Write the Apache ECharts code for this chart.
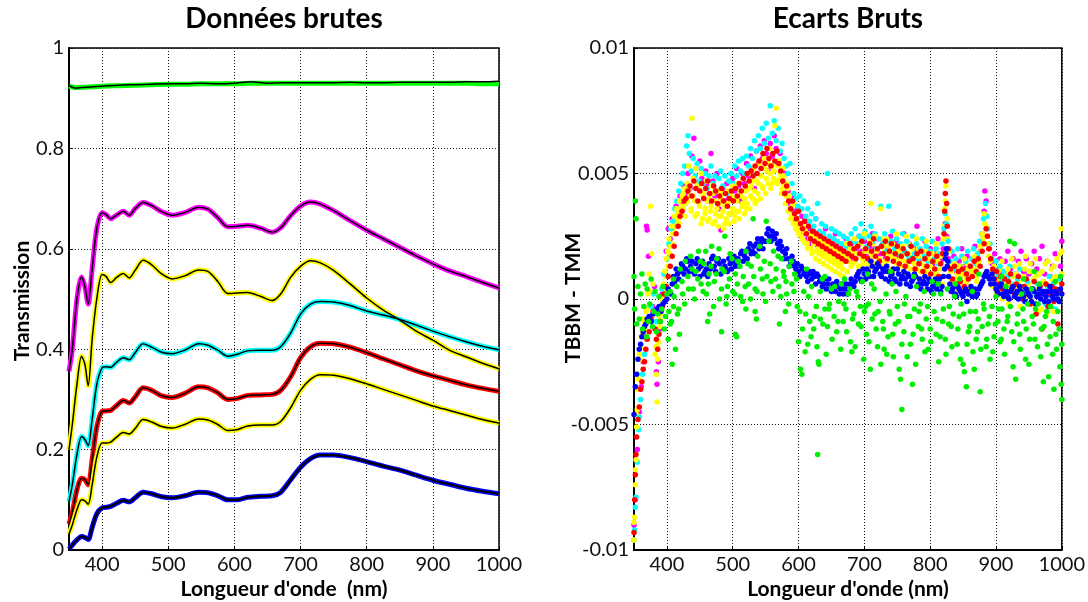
<!DOCTYPE html>
<html><head><meta charset="utf-8">
<script src="https://cdn.jsdelivr.net/npm/echarts@6/dist/echarts.min.js"></script>
<style>html,body{margin:0;padding:0;background:#fff}#c{width:1088px;height:602px}</style>
</head><body><div id="c"></div>
<script>
// ---------- tick labels ----------
const xTicks = [400, 500, 600, 700, 800, 900, 1000];
const yTicksLeft = [0, 0.2, 0.4, 0.6, 0.8, 1];
const yTicksRight = [-0.01, -0.005, 0, 0.005, 0.01];

// ---------- left panel: transmission curves ----------
const wl = [350,355,362,369,374,379,385,392,400,406,413,422,432,441,450,462,475,490,506,525,546,560,575,590,605,620,640,657,670,685,700,715,730,750,775,800,825,850,875,900,925,950,975,1000];
const magenta = [0.356,0.40,0.50,0.544,0.525,0.49,0.56,0.64,0.672,0.668,0.660,0.667,0.675,0.667,0.680,0.692,0.686,0.674,0.667,0.672,0.683,0.679,0.662,0.644,0.645,0.647,0.641,0.633,0.642,0.666,0.685,0.693,0.689,0.676,0.656,0.637,0.620,0.603,0.586,0.570,0.556,0.545,0.533,0.522];
const yellowHigh = [0.200,0.25,0.33,0.386,0.37,0.327,0.42,0.50,0.549,0.545,0.533,0.543,0.551,0.542,0.557,0.577,0.568,0.550,0.540,0.546,0.558,0.555,0.535,0.511,0.512,0.513,0.505,0.497,0.510,0.543,0.565,0.576,0.572,0.557,0.530,0.502,0.478,0.458,0.436,0.418,0.398,0.385,0.372,0.361];
const cyan = [0.096,0.13,0.19,0.226,0.22,0.208,0.26,0.33,0.363,0.365,0.364,0.374,0.383,0.379,0.393,0.411,0.404,0.394,0.391,0.398,0.411,0.408,0.398,0.386,0.390,0.397,0.398,0.398,0.405,0.432,0.470,0.490,0.495,0.494,0.487,0.476,0.468,0.459,0.448,0.436,0.425,0.415,0.406,0.399];
const red = [0.052,0.075,0.12,0.143,0.14,0.130,0.18,0.245,0.276,0.277,0.278,0.288,0.298,0.293,0.305,0.323,0.318,0.307,0.304,0.312,0.325,0.323,0.313,0.300,0.302,0.308,0.309,0.310,0.318,0.345,0.383,0.405,0.412,0.411,0.404,0.393,0.381,0.369,0.357,0.347,0.338,0.329,0.322,0.316];
const yellowLow = [0.032,0.05,0.08,0.100,0.098,0.091,0.13,0.185,0.213,0.213,0.215,0.225,0.234,0.231,0.242,0.260,0.255,0.246,0.243,0.250,0.261,0.259,0.250,0.238,0.240,0.247,0.249,0.249,0.256,0.283,0.318,0.340,0.349,0.348,0.341,0.331,0.320,0.309,0.298,0.287,0.278,0.269,0.260,0.253];
const blue = [0.002,0.010,0.020,0.027,0.025,0.021,0.045,0.072,0.084,0.085,0.087,0.093,0.099,0.096,0.104,0.115,0.112,0.106,0.104,0.108,0.115,0.114,0.108,0.100,0.100,0.105,0.107,0.108,0.115,0.140,0.165,0.182,0.189,0.189,0.184,0.176,0.167,0.159,0.149,0.139,0.131,0.123,0.117,0.112];
const gwl = [350,360,375,400,425,450,475,500,525,550,575,600,625,650,675,700,725,750,775,800,825,850,875,900,925,950,975,1000];
const green = [0.924,0.921,0.922,0.924,0.925,0.926,0.927,0.928,0.928,0.929,0.929,0.929,0.930,0.930,0.930,0.930,0.930,0.930,0.930,0.930,0.930,0.930,0.930,0.930,0.930,0.930,0.929,0.929];
const greenFit = [0.925,0.920,0.922,0.924,0.926,0.927,0.928,0.929,0.929,0.930,0.929,0.930,0.933,0.930,0.931,0.931,0.931,0.931,0.932,0.931,0.931,0.932,0.932,0.932,0.932,0.933,0.933,0.934];

// ---------- right panel: differences TBBM - TMM (units of 1e-3) ----------
const dBlue = [[350,-4.6],[352,-3.5],[354,-3.0],[356,-2.4],[358,-2.0],[360,-1.8],[362,-1.5],[364,-1.3],[366,-1.1],[368,-1.0],[370,-0.8],[373,-0.7],[376,-0.9],[379,-0.6],[382,-0.5],[385,-0.4],[388,-0.3],[391,-0.5],[394,-0.2],[397,-0.1],[400,0.0],[404,0.3],[408,0.6],[412,0.7],[416,1.0],[420,1.1],[424,1.3],[428,1.2],[432,1.5],[436,1.3],[440,1.1],[444,1.4],[448,1.2],[452,1.3],[456,1.0],[460,1.2],[464,1.4],[468,1.6],[472,1.3],[476,1.5],[480,1.4],[484,1.2],[488,1.3],[492,1.1],[496,1.4],[500,1.5],[504,1.3],[508,1.6],[512,1.8],[516,1.5],[520,1.9],[524,2.0],[528,1.8],[532,2.1],[536,2.2],[540,2.0],[544,2.4],[548,2.3],[552,2.6],[556,2.5],[560,2.7],[564,2.4],[568,2.2],[572,2.3],[576,1.9],[580,1.8],[584,1.6],[588,1.4],[592,1.5],[596,1.2],[600,1.1],[604,1.3],[608,1.0],[612,0.9],[616,1.1],[620,0.8],[624,0.9],[628,1.0],[632,0.7],[636,0.5],[640,0.8],[644,0.6],[648,0.4],[652,0.6],[656,0.3],[660,0.5],[664,0.4],[668,0.2],[672,0.6],[676,0.4],[680,0.8],[684,0.5],[688,0.9],[692,1.1],[696,0.7],[700,1.0],[704,1.2],[708,0.9],[712,1.3],[716,1.1],[720,1.4],[724,1.0],[728,1.2],[732,0.8],[736,1.1],[740,0.9],[744,1.2],[748,0.7],[752,1.0],[756,0.8],[760,1.1],[764,0.6],[768,0.9],[772,0.7],[776,1.0],[780,0.5],[784,0.8],[788,0.6],[792,0.9],[796,0.4],[800,0.7],[804,0.5],[808,0.8],[812,0.6],[816,0.3],[820,0.9],[823,1.6],[825,2.0],[827,1.5],[830,0.6],[834,0.4],[838,0.2],[842,0.5],[846,0.3],[850,0.1],[854,0.4],[858,0.2],[862,0.5],[866,0.3],[870,0.1],[874,0.4],[878,0.6],[882,0.9],[886,1.1],[890,0.8],[894,1.0],[898,0.6],[902,0.3],[906,0.5],[910,0.2],[914,0.4],[918,0.1],[922,0.3],[926,0.5],[930,0.2],[934,0.0],[938,0.3],[942,0.1],[946,0.4],[950,0.2],[954,-0.1],[958,0.3],[962,0.1],[966,0.4],[970,0.2],[974,-0.1],[978,0.3],[982,0.5],[986,0.1],[990,0.3],[994,0.0],[998,0.4],[1000,0.2]];
const dBlue2 = [[402,0.4],[406,0.2],[410,0.9],[414,1.2],[418,0.8],[422,1.4],[426,1.0],[430,1.6],[434,1.1],[438,1.5],[442,1.0],[446,1.6],[450,0.9],[454,1.5],[458,1.1],[462,0.9],[466,1.2],[470,1.7],[474,1.1],[478,1.6],[482,1.0],[486,1.5],[490,1.2],[494,1.6],[498,1.2],[502,1.7],[506,1.4],[510,1.3],[514,1.9],[518,1.7],[522,1.6],[526,2.2],[530,1.9],[534,1.8],[538,2.4],[542,2.2],[546,2.0],[550,2.3],[554,2.8],[558,2.3],[562,2.5],[566,2.6],[570,2.0],[574,2.1],[578,1.6],[582,2.0],[586,1.3],[590,1.7],[594,1.3],[598,1.4],[602,0.9],[606,1.2],[610,1.1],[614,0.7],[618,1.0],[622,1.1],[626,0.6],[630,0.9],[634,0.8],[638,0.6],[642,0.4],[646,0.8],[650,0.3],[654,0.5],[658,0.7],[662,0.2],[666,0.6],[670,0.4],[674,0.2],[678,0.6],[682,0.6],[686,0.7],[690,1.0],[694,0.8],[698,1.2],[702,0.8],[706,1.1],[710,1.5],[714,0.9],[718,1.2],[722,1.3],[726,0.9],[730,1.1],[734,1.3],[738,0.7],[742,1.0],[746,0.8],[750,1.2],[754,0.6],[758,0.9],[762,0.8],[766,1.0],[770,0.5],[774,0.8],[778,0.9],[782,0.6],[786,0.4],[790,0.7],[794,0.6],[798,0.8],[802,0.3],[806,0.6],[810,0.4],[814,0.8],[818,0.5],[822,1.2],[824,1.8],[826,1.3],[828,0.9],[832,0.3],[836,0.5],[840,0.1],[844,0.4],[848,0.2],[852,0.3],[856,-0.1],[860,0.3],[864,0.1],[868,0.4],[872,0.2],[876,0.5],[880,0.7],[884,1.0],[888,0.9],[892,0.6],[896,0.8],[900,0.4],[904,0.2],[908,0.6],[912,0.1],[916,0.3],[920,0.0],[924,0.4],[928,0.1],[932,0.3],[936,0.5],[940,0.2],[944,-0.1],[948,0.3],[952,0.1],[956,0.4],[960,-0.2],[964,0.2],[968,0.0],[972,0.3],[976,0.1],[980,-0.1],[984,0.3],[988,0.0],[992,0.2],[996,-0.1]];
const dRed = [[350,-9.3],[351,-8.0],[352,-7.0],[353,-6.2],[354,-5.5],[356,-4.8],[358,-4.3],[360,-3.6],[362,-3.3],[364,-2.8],[366,-2.5],[368,-2.0],[370,-1.6],[373,-1.3],[376,-0.8],[379,-0.5],[382,-1.2],[384,-1.6],[386,-2.0],[388,-1.4],[390,-0.9],[393,-0.3],[396,0.2],[399,0.5],[402,0.9],[405,1.3],[408,1.7],[411,2.1],[414,2.6],[417,2.9],[420,3.3],[423,3.5],[426,3.9],[429,4.0],[432,4.3],[435,4.5],[438,4.1],[441,4.7],[444,4.4],[447,3.9],[450,4.3],[453,4.6],[456,4.0],[459,4.4],[462,4.7],[465,4.2],[468,3.9],[471,4.5],[474,4.3],[477,3.8],[480,4.1],[483,4.4],[486,3.9],[489,4.2],[492,3.7],[495,4.0],[498,4.3],[501,3.9],[504,4.4],[507,4.1],[510,4.6],[513,4.3],[516,4.8],[519,4.5],[522,5.0],[525,4.7],[528,5.1],[531,4.9],[534,5.3],[537,5.0],[540,5.5],[543,5.2],[546,5.8],[549,5.4],[552,6.0],[555,5.6],[558,5.3],[561,5.8],[564,5.5],[567,5.9],[570,5.4],[573,5.1],[576,4.7],[579,4.2],[582,4.5],[585,3.9],[588,3.6],[591,3.9],[594,3.4],[597,3.2],[600,3.5],[603,3.0],[606,2.8],[609,3.1],[612,2.6],[615,2.9],[618,2.4],[621,2.7],[624,2.3],[627,2.6],[630,2.2],[633,2.5],[636,2.1],[639,2.4],[642,2.0],[645,2.3],[648,1.9],[651,2.2],[654,1.8],[657,2.1],[660,1.7],[663,2.0],[666,1.6],[669,1.9],[672,1.5],[675,1.8],[678,2.2],[681,1.7],[684,2.0],[687,1.6],[690,2.1],[693,1.8],[696,2.3],[699,1.7],[702,2.0],[705,1.6],[708,2.2],[711,1.9],[714,2.4],[717,1.7],[720,2.0],[723,1.5],[726,2.1],[729,1.8],[732,2.3],[735,1.6],[738,1.9],[741,2.2],[744,1.5],[747,1.8],[750,2.1],[753,1.4],[756,1.7],[759,2.0],[762,1.3],[765,1.8],[768,1.5],[771,2.1],[774,1.6],[777,1.2],[780,1.8],[783,1.4],[786,1.9],[789,1.1],[792,1.6],[795,1.3],[798,1.8],[801,1.0],[804,1.5],[807,1.2],[810,1.7],[813,0.9],[816,1.4],[819,1.8],[821,2.6],[822,3.5],[823,4.2],[824,4.7],[825,3.8],[826,2.9],[828,2.0],[831,1.2],[834,0.8],[837,1.3],[840,0.6],[843,1.1],[846,0.7],[849,1.2],[852,0.5],[855,1.0],[858,0.8],[861,1.3],[864,0.9],[867,1.5],[870,1.1],[873,1.6],[876,1.3],[879,1.9],[882,2.2],[885,2.8],[887,2.5],[889,2.0],[892,1.6],[895,1.2],[898,0.8],[901,1.1],[904,0.6],[907,0.9],[910,0.4],[913,0.8],[916,0.3],[919,0.7],[922,1.0],[925,0.5],[928,0.2],[931,0.6],[934,0.9],[937,0.3],[940,0.0],[943,0.5],[946,0.8],[949,0.2],[952,-0.2],[955,0.4],[958,0.7],[961,-0.6],[964,0.1],[967,0.5],[970,-1.2],[973,0.3],[976,0.6],[979,-0.3],[982,0.2],[985,0.5],[988,-0.1],[991,0.4],[994,-1.0],[997,0.3],[1000,0.6]];
const dYellow = [[350,-9.6],[351,-8.7],[352,-7.4],[353,-6.4],[354,-5.1],[355,-4.4],[356,-3.6],[357,-3.2],[359,-2.4],[361,-1.9],[363,-1.3],[365,-0.9],[368,-0.5],[371,0.2],[373,1.0],[375,3.7],[377,1.8],[379,0.6],[381,-0.6],[383,-1.9],[385,-4.1],[386,-2.4],[387,-1.7],[389,-1.1],[391,-0.6],[393,0.0],[395,0.6],[397,1.1],[399,1.6],[401,1.9],[403,2.4],[405,2.1],[407,2.9],[409,2.6],[411,3.3],[413,2.9],[415,3.6],[417,3.2],[419,3.9],[421,3.4],[423,4.1],[425,3.6],[427,4.4],[429,3.8],[431,4.6],[433,5.3],[435,4.1],[437,3.5],[438,7.2],[440,4.8],[442,3.9],[444,5.2],[446,3.4],[448,4.4],[450,3.7],[452,5.0],[454,3.2],[456,4.2],[458,3.6],[460,4.7],[462,3.1],[464,4.0],[466,3.5],[468,4.5],[470,3.0],[472,3.9],[474,3.4],[476,4.3],[478,2.9],[480,3.8],[482,3.3],[484,4.2],[486,2.8],[488,3.7],[490,3.2],[492,4.3],[494,3.0],[496,3.9],[498,3.4],[500,4.5],[502,3.1],[504,4.0],[506,3.5],[508,4.6],[510,3.2],[512,4.1],[514,3.7],[516,4.8],[518,3.4],[520,4.3],[522,3.8],[524,5.0],[526,3.6],[528,4.5],[530,4.0],[532,5.2],[534,3.8],[536,4.7],[538,4.2],[540,5.4],[542,4.0],[544,4.9],[546,4.4],[548,5.6],[550,4.2],[552,5.1],[554,4.6],[556,6.0],[558,4.4],[560,5.3],[562,4.8],[564,6.9],[566,7.6],[568,4.6],[570,5.5],[572,5.0],[574,4.2],[576,5.2],[578,4.5],[580,3.8],[582,4.6],[584,3.5],[586,4.1],[588,3.2],[590,3.7],[592,3.0],[594,3.4],[596,2.8],[598,3.2],[600,2.6],[602,3.0],[604,2.5],[606,2.9],[608,2.3],[610,2.8],[613,2.2],[616,2.6],[619,2.0],[622,2.5],[625,1.9],[628,2.4],[631,1.8],[634,2.3],[637,1.7],[640,2.2],[643,1.6],[646,2.1],[649,1.5],[652,2.0],[655,1.4],[658,1.9],[661,1.3],[664,1.8],[667,1.2],[670,1.7],[673,2.2],[676,1.5],[679,2.0],[682,1.4],[685,2.4],[688,1.8],[691,1.3],[694,2.2],[697,1.6],[700,2.6],[703,1.9],[706,1.4],[709,2.3],[710,3.8],[713,1.7],[716,2.5],[719,1.9],[722,1.3],[725,3.6],[728,2.1],[731,1.5],[734,2.4],[737,1.8],[740,1.2],[743,2.2],[746,1.6],[749,2.6],[752,1.9],[755,1.3],[758,2.1],[761,1.5],[764,2.5],[767,1.8],[770,1.2],[773,2.0],[776,1.4],[779,2.4],[782,1.7],[785,1.1],[788,1.9],[791,1.3],[794,2.3],[797,1.6],[800,1.0],[803,1.8],[806,1.2],[809,2.2],[812,1.5],[815,0.9],[818,1.7],[820,2.4],[822,3.6],[824,4.5],[826,3.2],[828,1.9],[831,1.1],[834,0.6],[837,1.4],[840,0.8],[843,1.3],[846,0.5],[849,1.0],[852,1.6],[855,0.7],[858,1.2],[861,0.4],[864,1.1],[867,1.7],[870,0.9],[873,1.4],[876,2.1],[879,2.6],[882,3.4],[885,2.9],[888,2.2],[891,1.5],[894,0.9],[897,1.3],[900,0.6],[903,1.1],[906,0.4],[909,1.5],[912,0.8],[915,0.2],[918,1.2],[921,0.6],[924,1.6],[927,0.3],[930,1.0],[933,0.5],[936,1.4],[939,0.1],[942,0.9],[945,1.7],[948,0.4],[951,1.1],[954,0.0],[957,0.8],[960,1.6],[963,0.3],[966,1.0],[969,-0.4],[972,0.7],[975,1.4],[978,-0.6],[981,0.5],[984,1.2],[987,-0.5],[990,0.9],[993,1.6],[996,0.2],[999,2.8],[1000,1.9]];
const dYellow2 = [[350,-8.9],[352,-6.8],[354,-4.6],[356,-3.0],[358,-2.2],[361,-1.5],[364,-0.8],[367,-1.2],[370,-0.4],[374,0.3],[378,-0.9],[382,-2.2],[384,-3.0],[386,-1.9],[389,-0.8],[392,-0.2],[395,0.4],[398,0.9],[401,1.3],[404,1.8],[407,2.2],[410,2.7],[413,3.1],[416,3.4],[419,3.0],[422,3.7],[425,4.2],[428,3.3],[431,3.9],[434,4.4],[437,3.6],[440,4.1],[443,3.3],[446,4.6],[449,3.8],[452,3.0],[455,4.1],[458,3.4],[461,3.9],[464,3.2],[467,3.7],[470,4.2],[473,3.1],[476,3.6],[479,3.3],[482,4.0],[485,3.5],[488,3.0],[491,3.8],[494,3.4],[497,4.1],[500,3.6],[503,3.3],[506,3.9],[509,3.5],[512,4.3],[515,3.8],[518,4.0],[521,3.6],[524,4.4],[527,4.1],[530,4.7],[533,4.3],[536,3.9],[539,4.6],[542,4.9],[545,4.5],[548,5.2],[551,4.8],[554,5.4],[557,5.0],[560,4.6],[563,5.1],[566,4.7],[569,5.3],[572,4.8],[575,4.4],[578,4.9],[581,4.1],[584,4.4],[587,3.6],[590,3.3],[593,3.8],[596,3.0],[599,2.7],[602,2.9],[605,2.4],[608,2.7],[611,2.2],[614,2.0],[617,2.4],[620,1.8],[623,2.2],[626,1.6],[629,2.0],[632,1.5],[635,1.9],[638,1.4],[641,1.8],[644,1.3],[647,1.7],[650,1.2],[653,1.6],[656,1.1],[659,1.5],[662,1.0],[665,1.4],[668,0.9],[671,1.5],[674,1.1],[677,1.7],[680,1.3],[683,1.9],[686,1.5],[689,2.1],[692,1.2],[695,1.8],[698,1.4],[701,2.0],[704,1.6],[707,1.2],[710,1.8],[713,2.2],[716,1.4],[719,2.0],[722,1.6],[725,2.4],[728,1.3],[731,1.9],[734,1.5],[737,2.1],[740,1.7],[743,1.1],[746,1.9],[749,1.4],[752,2.0],[755,1.6],[758,1.0],[761,1.8],[764,1.3],[767,2.2],[770,1.5],[773,0.9],[776,1.7],[779,1.2],[782,2.0],[785,1.4],[788,0.8],[791,1.6],[794,1.1],[797,1.9],[800,1.3],[803,0.7],[806,1.5],[809,1.0],[812,1.8],[815,1.2],[818,0.6],[821,2.9],[823,3.9],[826,2.4],[829,1.4],[832,0.8],[835,1.2],[838,0.4],[841,1.0],[844,0.6],[847,1.3],[850,0.3],[853,0.9],[856,1.4],[859,0.5],[862,1.0],[865,0.2],[868,1.2],[871,0.7],[874,1.5],[877,1.9],[880,2.4],[883,3.0],[886,2.5],[889,1.7],[892,1.1],[895,0.5],[898,1.0],[901,0.3],[904,0.8],[907,1.2],[910,0.0],[913,0.6],[916,1.0],[919,-0.2],[922,0.4],[925,0.9],[928,1.3],[931,0.2],[934,0.7],[937,-0.3],[940,0.5],[943,1.2],[946,0.1],[949,0.6],[952,1.4],[955,-0.2],[958,0.4],[961,0.9],[964,-0.5],[967,0.3],[970,1.1],[973,0.0],[976,0.6],[979,1.5],[982,-0.3],[985,0.8],[988,1.3],[991,0.2],[994,0.7],[997,1.8],[1000,1.0]];
const dCyan = [[350,-9.6],[351,-9.2],[352,-8.3],[353,-7.9],[355,-6.5],[357,-5.2],[358,-4.7],[360,-4.0],[363,-3.0],[366,-2.2],[369,-1.5],[372,-0.8],[376,-0.3],[380,0.2],[384,-0.9],[388,-0.5],[392,0.4],[396,1.0],[400,1.6],[403,2.2],[406,2.8],[409,3.1],[412,3.6],[415,3.9],[418,4.3],[421,4.6],[424,5.0],[427,5.3],[430,6.1],[432,6.5],[434,5.8],[437,5.1],[440,5.6],[443,4.9],[446,5.4],[449,4.7],[452,5.2],[455,4.6],[458,5.0],[461,4.4],[464,4.9],[467,5.3],[470,4.6],[473,4.9],[476,4.3],[479,4.8],[482,5.1],[485,4.5],[488,4.9],[491,4.2],[494,4.7],[497,5.0],[500,4.6],[503,5.3],[506,4.9],[509,5.5],[512,5.1],[515,5.6],[518,5.0],[521,5.7],[524,5.3],[527,6.0],[530,5.6],[533,6.3],[536,5.9],[539,6.5],[542,6.0],[545,6.8],[548,6.2],[551,7.0],[554,6.4],[557,7.7],[560,6.6],[563,7.1],[566,6.3],[569,6.8],[572,5.9],[575,6.2],[578,5.6],[581,5.3],[584,5.0],[587,5.4],[590,4.6],[593,4.2],[596,4.0],[599,3.7],[602,4.1],[605,3.6],[608,3.9],[611,3.3],[614,3.6],[617,3.1],[620,3.4],[623,2.9],[626,3.2],[629,3.8],[632,2.7],[635,3.0],[638,2.6],[641,2.9],[644,5.0],[647,2.5],[650,2.8],[653,2.4],[656,2.7],[659,2.3],[662,2.6],[665,2.2],[668,2.5],[671,2.1],[674,2.4],[677,2.0],[680,2.6],[683,2.3],[686,2.8],[689,2.2],[692,2.5],[695,3.0],[698,2.4],[701,2.7],[704,2.1],[707,2.5],[710,2.9],[713,2.3],[716,2.6],[719,2.0],[722,2.4],[725,3.7],[728,2.2],[731,2.6],[734,1.9],[737,3.7],[740,2.3],[743,2.7],[746,2.0],[749,2.4],[752,1.8],[755,2.2],[758,2.6],[761,1.9],[764,2.3],[767,1.7],[770,2.1],[773,2.5],[776,1.8],[779,2.2],[782,1.6],[785,2.0],[788,2.4],[791,1.7],[794,2.1],[797,1.5],[800,1.9],[803,2.3],[806,1.6],[809,2.0],[812,1.4],[815,1.8],[818,2.2],[821,2.8],[823,3.4],[825,3.0],[827,2.3],[830,1.5],[833,1.9],[836,1.2],[839,1.6],[842,2.0],[845,1.3],[848,1.7],[851,1.1],[854,1.5],[857,1.9],[860,1.2],[863,1.6],[866,2.0],[869,1.4],[872,1.8],[875,2.3],[878,2.6],[881,3.2],[884,3.8],[886,3.3],[888,2.8],[891,2.2],[894,1.6],[897,1.2],[900,1.5],[903,0.9],[906,1.3],[909,0.7],[912,1.1],[915,0.5],[918,0.9],[921,1.3],[924,0.6],[927,1.0],[930,0.4],[933,0.8],[936,1.2],[939,0.5],[942,0.9],[945,0.3],[948,0.7],[951,1.1],[954,0.4],[957,0.8],[960,0.2],[963,0.6],[966,1.0],[969,0.3],[972,0.7],[975,-0.2],[978,0.5],[981,0.9],[984,0.1],[987,0.6],[990,-0.4],[993,0.3],[996,0.8],[999,0.2]];
const dMagenta = [[350,-9.0],[352,-8.0],[355,-6.0],[358,-4.5],[361,-3.5],[364,-2.5],[367,-1.5],[369,2.9],[370,2.75],[372,1.7],[375,-0.8],[378,-0.3],[381,0.5],[384,-2.9],[385,-3.4],[387,-2.5],[390,-1.2],[393,0.2],[396,1.0],[399,1.9],[402,2.8],[405,2.4],[408,3.2],[411,2.9],[414,3.7],[417,3.4],[420,4.1],[423,3.8],[426,4.5],[429,4.2],[432,5.0],[435,4.4],[438,5.7],[441,6.4],[444,5.2],[447,4.6],[450,5.5],[453,4.8],[456,4.2],[459,5.1],[462,4.5],[465,3.9],[467,5.8],[470,4.7],[473,4.1],[476,5.0],[479,3.6],[482,2.75],[485,4.4],[488,3.9],[491,4.6],[494,4.0],[497,3.4],[500,4.8],[503,4.3],[506,5.2],[509,4.5],[512,3.9],[515,5.0],[518,4.6],[521,5.4],[524,4.9],[527,5.7],[530,5.2],[533,4.4],[536,5.9],[539,5.4],[542,6.1],[545,5.6],[548,6.3],[551,5.8],[554,5.1],[557,6.2],[560,5.7],[563,6.5],[566,6.0],[569,5.4],[572,5.8],[575,5.1],[578,4.6],[581,5.0],[584,4.3],[587,3.8],[590,4.1],[593,3.5],[596,3.1],[599,3.6],[602,2.9],[605,3.3],[608,2.6],[611,3.1],[614,2.4],[617,2.8],[620,2.2],[623,2.7],[626,3.2],[629,2.1],[632,2.5],[635,2.0],[638,2.4],[641,2.8],[644,1.9],[647,2.3],[650,1.8],[653,2.2],[656,2.6],[659,1.7],[662,2.1],[665,1.6],[668,2.0],[672,2.4],[676,1.8],[680,2.2],[684,1.6],[688,2.0],[692,2.5],[696,1.9],[700,2.3],[704,1.7],[708,2.1],[712,2.6],[716,2.0],[720,2.4],[724,1.8],[728,2.2],[732,1.6],[736,2.0],[740,2.5],[744,1.9],[748,2.3],[752,1.7],[756,2.1],[760,2.6],[764,1.8],[768,2.2],[772,1.6],[776,2.0],[780,2.9],[784,1.5],[788,1.9],[792,2.3],[796,1.6],[800,2.0],[804,1.4],[808,1.8],[812,2.4],[816,1.5],[820,2.0],[823,3.0],[825,2.5],[828,1.6],[832,1.2],[836,1.7],[840,1.1],[844,1.5],[848,2.0],[852,1.3],[856,1.7],[860,1.1],[864,1.6],[868,2.1],[872,1.4],[876,1.9],[879,2.6],[882,3.5],[883,4.3],[885,3.9],[887,2.8],[890,2.0],[894,1.4],[898,1.8],[902,1.2],[906,1.6],[910,1.0],[914,1.5],[918,1.9],[922,1.2],[926,1.6],[930,1.0],[934,1.5],[938,1.9],[942,1.1],[946,1.6],[950,1.0],[954,1.4],[958,1.9],[962,1.2],[966,1.6],[970,2.1],[974,1.0],[978,1.5],[982,0.9],[986,1.3],[990,1.8],[994,0.8],[998,1.3],[1000,2.3]];
const dGreen = [[350,0.9],[351,-0.4],[352,3.9],[353,3.2],[354,-1.0],[356,0.5],[358,-0.8],[360,0.2],[362,1.0],[363,-1.2],[365,-0.3],[367,0.6],[369,-1.5],[370,0.4],[372,-0.9],[374,-0.2],[376,0.8],[378,-1.1],[380,-0.5],[382,0.3],[384,-1.3],[386,-0.6],[388,0.1],[390,-0.9],[392,-0.4],[394,0.5],[396,-1.2],[398,-0.7],[400,0.2],[403,-0.5],[405,-1.0],[408,-2.6],[410,-0.3],[413,-2.0],[416,-0.6],[419,-1.4],[405,0.3],[410,0.8],[415,0.5],[420,1.2],[424,0.2],[428,1.5],[432,0.9],[436,1.7],[440,0.4],[444,1.1],[448,1.9],[452,0.6],[456,1.4],[460,0.2],[464,1.0],[468,2.1],[472,0.7],[476,1.6],[480,0.0],[484,1.2],[488,2.5],[492,0.5],[496,1.8],[500,0.3],[504,1.0],[508,1.5],[512,0.1],[516,0.9],[520,1.9],[524,0.6],[528,1.3],[531,3.2],[534,0.4],[538,1.7],[541,2.1],[545,0.8],[548,1.5],[551,3.1],[555,2.3],[558,0.7],[562,1.9],[566,1.2],[570,0.5],[574,1.6],[578,0.9],[582,0.2],[586,1.3],[590,0.6],[594,1.0],[598,-0.3],[462,-0.9],[465,-0.6],[483,-1.3],[504,-1.4],[506,-1.5],[534,-0.5],[536,-0.8],[571,-1.0],[490,-0.2],[520,-0.4],[550,-0.1],[580,-0.5],[600,-1.7],[603,-2.8],[605,-3.0],[608,0.3],[611,-0.6],[614,-1.8],[617,-0.9],[620,0.5],[623,-1.2],[627,-0.3],[630,-2.5],[631,-2.6],[629,-6.2],[633,-0.8],[636,0.8],[640,-0.4],[644,-1.1],[647,-0.2],[650,0.4],[654,-0.7],[658,-1.3],[661,-0.1],[665,0.6],[668,-0.9],[672,-0.4],[676,0.2],[679,-1.7],[681,-2.1],[684,-0.6],[688,0.3],[691,-1.0],[694,-0.3],[697,0.7],[700,-0.5],[703,-1.4],[706,-0.2],[709,-2.8],[712,-0.8],[715,0.4],[718,-1.2],[721,-0.5],[725,-2.6],[728,-0.9],[730,-2.0],[733,0.2],[736,-1.5],[739,-0.6],[742,0.6],[744,-2.3],[747,-1.0],[750,-0.3],[753,-2.8],[755,-3.2],[757,-4.4],[760,-1.3],[763,0.1],[766,-0.7],[770,-1.8],[773,-3.4],[776,-0.4],[779,0.5],[782,-1.1],[785,-0.2],[788,-1.6],[791,0.3],[794,-0.8],[797,-2.0],[800,-1.2],[803,0.7],[806,-0.5],[809,-1.4],[813,-2.5],[816,0.2],[819,-0.9],[823,-1.6],[826,0.4],[829,-0.3],[832,-1.1],[835,-0.6],[838,0.6],[841,-1.8],[844,-0.7],[847,-0.2],[850,-2.6],[852,-2.9],[855,-3.5],[858,-1.3],[861,-0.5],[864,0.3],[867,-2.8],[870,-1.6],[873,-0.8],[876,-3.7],[879,-1.1],[882,-0.4],[885,-1.9],[888,-1.0],[891,-2.4],[894,-0.3],[897,-1.5],[900,0.1],[903,-0.9],[906,-1.7],[909,-0.4],[912,-1.2],[915,0.5],[918,-0.7],[921,2.3],[924,-1.3],[926,-2.7],[928,2.2],[930,-3.2],[933,-0.6],[936,-1.4],[939,0.2],[942,-0.9],[945,-2.4],[948,-0.2],[951,-1.6],[954,0.4],[957,-1.0],[960,-0.4],[963,-1.9],[966,0.6],[969,-1.2],[972,-3.3],[975,-0.7],[978,-1.8],[980,-3.1],[983,-0.3],[986,-2.2],[988,-3.6],[991,-1.4],[994,-0.5],[997,-2.7],[999,-3.4],[1000,-4.0],[998,0.9],[990,0.7],[958,1.1],[942,0.8],[908,0.9],[874,1.0],[845,0.8],[812,0.6],[775,0.9],[740,1.1],[705,1.0],[670,0.8],[640,0.9],[612,1.2]];
const dGreen2 = [[402,-1.6],[407,-0.9],[411,0.1],[418,-0.4],[423,0.7],[427,-0.2],[433,0.4],[438,1.2],[442,0.0],[447,0.8],[451,1.5],[455,0.3],[459,1.9],[463,0.6],[467,1.3],[471,-0.3],[475,1.0],[479,2.0],[483,0.4],[487,1.1],[491,0.1],[495,0.8],[499,1.6],[503,0.2],[507,0.6],[511,1.3],[515,-0.1],[519,0.5],[523,1.4],[527,0.0],[532,0.9],[537,0.3],[542,1.2],[546,0.2],[552,0.9],[557,1.4],[561,0.3],[565,0.8],[569,1.7],[573,0.1],[577,1.1],[581,0.7],[585,-0.2],[589,1.5],[593,0.3],[597,0.8],[602,-0.5],[606,-1.2],[610,-2.1],[615,0.1],[619,-1.5],[624,-0.7],[628,-1.9],[633,0.3],[637,-1.0],[642,-2.2],[646,-0.4],[651,-1.6],[655,0.5],[660,-0.9],[664,-2.0],[669,-0.2],[673,-1.3],[678,0.4],[682,-0.8],[686,-1.9],[690,0.1],[695,-1.1],[699,-2.4],[702,-0.3],[707,-1.7],[711,0.6],[716,-0.6],[720,-1.9],[724,-0.1],[729,-1.2],[734,-2.2],[738,-0.5],[743,-1.4],[748,0.3],[752,-0.9],[757,-1.8],[761,-0.2],[765,-2.3],[769,-0.7],[774,-1.4],[778,-2.6],[783,-0.5],[787,-1.2],[792,-2.1],[796,-0.3],[801,-1.7],[805,0.2],[810,-0.8],[815,-1.5],[820,-0.4],[824,-2.2],[828,-1.0],[833,-1.9],[837,0.1],[842,-1.2],[846,-2.4],[851,-0.6],[856,-1.8],[860,-1.1],[865,-2.1],[869,-0.5],[872,-1.3],[877,-2.0],[881,-0.2],[886,-1.6],[890,-0.7],[895,-2.1],[899,-1.0],[904,-0.4],[908,-1.6],[913,-2.2],[917,-0.9],[922,-0.3],[927,-1.7],[932,-1.0],[937,-2.0],[941,-0.4],[946,-1.2],[950,-2.6],[955,-0.7],[959,-1.6],[964,-0.2],[968,-2.3],[973,-1.1],[977,-0.5],[982,-1.5],[987,-0.9],[992,-2.0],[996,-1.2],[1000,-1.8]];

// ---------- build ----------
const FONT = 'Lato';
const pairs = (xs, ys) => xs.map((x, i) => [x, ys[i]]);
const milli = arr => arr.map(p => [p[0], p[1] / 1000]);
const fmt = v => String(+v.toFixed(4));

function xAxisCfg(gi) {
  return {
    gridIndex: gi, type: 'value', min: 350, max: 1000,
    axisLine: { show: true, onZero: false, lineStyle: { color: '#000', width: 2 } },
    axisTick: { show: true, inside: true, length: 4, customValues: xTicks, lineStyle: { color: '#000' } },
    axisLabel: { customValues: xTicks, color: '#111', fontFamily: FONT, fontSize: 20, margin: 5, formatter: fmt },
    splitLine: { show: true, lineStyle: { color: '#111', type: [1, 2], width: 1 } }
  };
}
function yAxisCfg(gi, ticks) {
  return {
    gridIndex: gi, type: 'value', min: ticks[0], max: ticks[ticks.length - 1],
    interval: ticks[1] - ticks[0],
    axisLine: { show: true, onZero: false, lineStyle: { color: '#000', width: 2 } },
    axisTick: { show: true, inside: true, length: 4, lineStyle: { color: '#000' } },
    axisLabel: { color: '#111', fontFamily: FONT, fontSize: 20, margin: 5, formatter: fmt },
    splitLine: { show: true, lineStyle: { color: '#111', type: [1, 2], width: 1 } }
  };
}

function curve(xs, ys, color, w, z) {
  return { type: 'line', xAxisIndex: 0, yAxisIndex: 0, data: pairs(xs, ys), symbol: 'none',
    smooth: 0.3, lineStyle: { color: color, width: w }, z: z, silent: true };
}
function dots(arr, color, z) {
  return { type: 'scatter', xAxisIndex: 1, yAxisIndex: 1, data: milli(arr), symbol: 'circle',
    symbolSize: 5.5, itemStyle: { color: color, opacity: 1 }, z: z, silent: true };
}

const curves = [
  [gwl, green, '#00ff00', greenFit],
  [wl, magenta, '#ff00ff'],
  [wl, yellowHigh, '#ffff00'],
  [wl, cyan, '#00ffff'],
  [wl, red, '#ff0000'],
  [wl, yellowLow, '#ffff00'],
  [wl, blue, '#0000ff']
];
const series = [];
curves.forEach((c) => {
  series.push(curve(c[0], c[1], c[2], 5, 2));
  series.push(curve(c[0], c[3] || c[1], '#000', c[2] === '#0000ff' ? 2.2 : 1.5, 3));
});
series.push(dots(dMagenta, '#ff00ff', 2));
series.push(dots(dYellow2, '#ffff00', 3));
series.push(dots(dCyan, '#00ffff', 4));
series.push(dots(dYellow, '#ffff00', 4));
series.push(dots(dRed, '#ff0000', 5));
series.push(dots(dBlue.concat(dBlue2), '#0000ff', 6));
series.push(dots(dGreen.concat(dGreen2), '#00ee00', 7));

const titleStyle = { fontFamily: FONT, fontWeight: 'bold', fontSize: 28, fill: '#000', textAlign: 'center', textVerticalAlign: 'middle' };
const nameStyle = { fontFamily: FONT, fontWeight: 'bold', fontSize: 21, fill: '#000', textAlign: 'center', textVerticalAlign: 'middle' };

const chart = echarts.init(document.getElementById('c'), null, { renderer: 'canvas' });
chart.setOption({
  animation: false,
  backgroundColor: '#fff',
  grid: [
    { left: 69, top: 48, width: 430, height: 502, show: true, borderColor: '#000', borderWidth: 1.5, backgroundColor: 'transparent' },
    { left: 634, top: 48, width: 430, height: 502, show: true, borderColor: '#000', borderWidth: 1.5, backgroundColor: 'transparent' }
  ],
  xAxis: [xAxisCfg(0), xAxisCfg(1)],
  yAxis: [yAxisCfg(0, yTicksLeft), yAxisCfg(1, yTicksRight)],
  graphic: [
    { type: 'text', x: 284, y: 19, style: Object.assign({ text: 'Données brutes' }, titleStyle) },
    { type: 'text', x: 848, y: 19, style: Object.assign({ text: 'Ecarts Bruts' }, titleStyle) },
    { type: 'text', x: 284, y: 589, style: Object.assign({ text: "Longueur d'onde  (nm)" }, nameStyle) },
    { type: 'text', x: 848, y: 589, style: Object.assign({ text: "Longueur d'onde (nm)" }, nameStyle) },
    { type: 'text', x: 22, y: 301, rotation: Math.PI / 2, style: Object.assign({ text: 'Transmission' }, nameStyle) },
    { type: 'text', x: 573, y: 298, rotation: Math.PI / 2, style: Object.assign({ text: 'TBBM - TMM' }, nameStyle) }
  ],
  series: series
});
</script>
</body></html>
